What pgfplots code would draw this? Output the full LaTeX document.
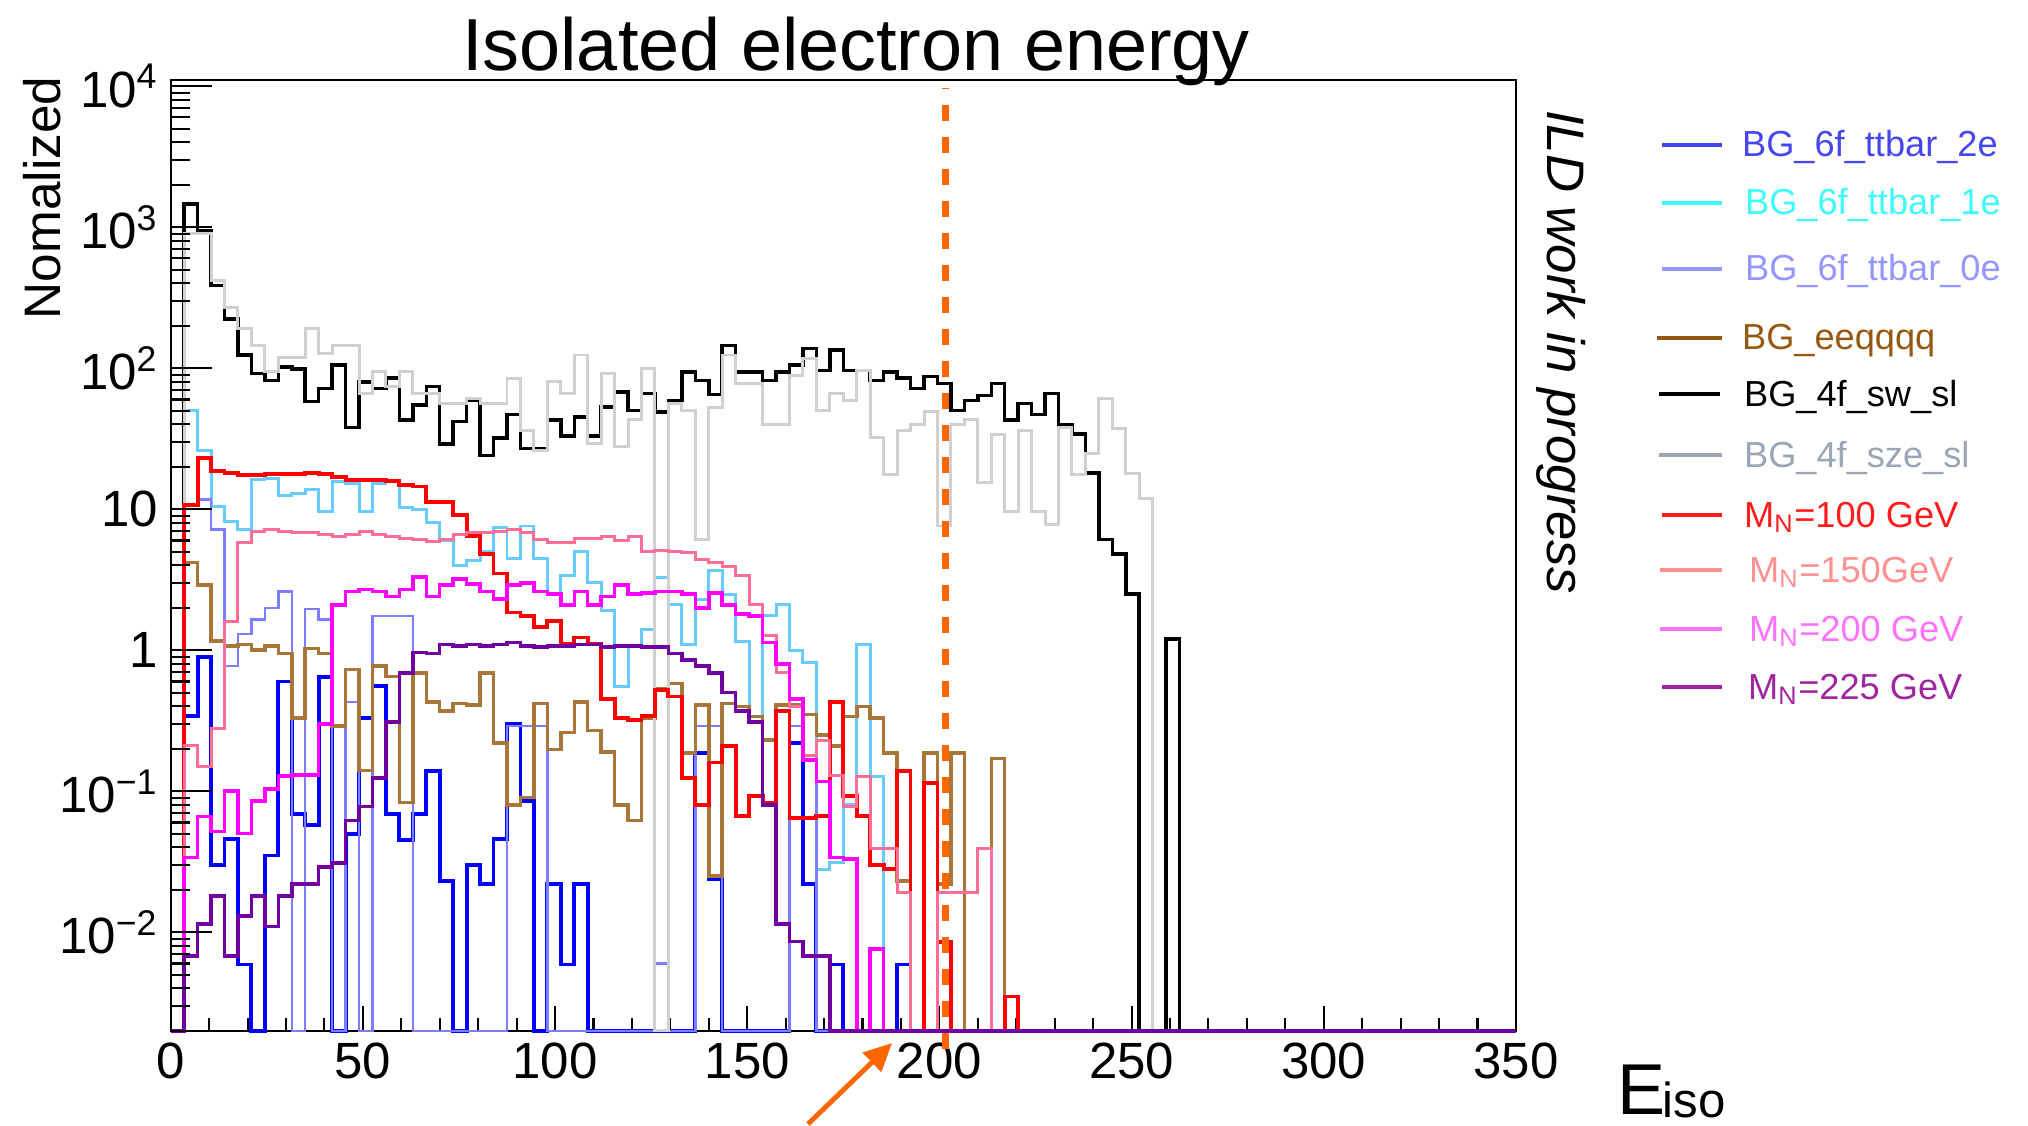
\documentclass[border=0pt]{standalone}
\usepackage{fontspec}
\setmainfont{Liberation Sans}
\usepackage{pgfplots}
\pgfplotsset{compat=1.18}
\usepackage{pgfplotstable}
\usetikzlibrary{arrows.meta}

% histogram colours
\definecolor{h2e}{RGB}{0,0,255}
\definecolor{h1e}{RGB}{102,204,255}
\definecolor{h0e}{RGB}{125,125,255}
\definecolor{heq}{RGB}{168,118,56}
\definecolor{hsz}{RGB}{208,208,208}
\definecolor{hA}{RGB}{255,0,0}
\definecolor{hB}{RGB}{255,110,150}
\definecolor{hC}{RGB}{255,0,255}
\definecolor{hD}{RGB}{112,0,160}
\definecolor{cut}{RGB}{255,102,0}
% legend colours
\definecolor{l2e}{RGB}{70,70,240}
\definecolor{l1e}{RGB}{64,250,250}
\definecolor{l0e}{RGB}{150,150,255}
\definecolor{leq}{RGB}{150,88,15}
\definecolor{lsz}{RGB}{155,166,180}
\definecolor{lA}{RGB}{255,28,28}
\definecolor{lB}{RGB}{255,145,145}
\definecolor{lC}{RGB}{255,115,255}
\definecolor{lD}{RGB}{160,38,160}

% bin left edges (width 3.5), empty bins at the axis floor 0.002
\pgfplotstableread{
x     T2     T1     T0     EQ     SW    SZ     R      P      M      U
0     0.002  0.002  0.002  0.002  0.002 0.002  0.002  0.002  0.002  0.002
3.5   0.34   50     10.6   4.2    1460  896    10.7   0.21   0.034  0.0068
7     0.9    26     11.7   2.9    945   896    23     0.15   0.066  0.0114
10.5  0.030  10.5   7.2    1.16   386   419    18.6   0.28   0.052  0.018
14    0.046  8.2    0.77   1.07   224   271    18     1.6    0.10   0.0068
17.5  0.0059 7.2    1.3    1.1    124   190    17.6   5.8    0.050  0.013
21    0.002  16.2   1.65   1.0    92    145    17.6   7      0.085  0.018
24.5  0.035  16.6   2.0    1.07   82    94     17.8   7.2    0.104  0.011
28    0.6    12.6   2.6    0.95   102   120    17.8   7      0.128  0.018
31.5  0.069  12.9   0.002  0.33   99    120    17.8   6.8    0.13   0.022
35    0.058  13.7   1.96   1.03   58    190    18     6.8    0.13   0.022
38.5  0.65   9.7    1.65   0.95   72    127    17.8   6.6    0.3    0.029
42    0.002  15.8   0.002  0.29   105   145    17     6.4    2.1    0.031
45.5  0.05   15.3   0.43   0.73   38    145    16.2   6.6    2.6    0.062
49    0.33   9.7    0.002  0.14   80    66     16.2   7      2.7    0.078
52.5  0.56   15.3   1.75   0.77   72    94     16.2   6.6    2.6    0.124
56    0.069  15.8   1.75   0.65   85    74     15.8   6.4    2.4    0.31
59.5  0.045  10.2   1.75   0.083  43    94     14.8   6.2    2.7    0.69
63    0.069  9.9    0.002  0.69   55    66     14.5   6.1    3.3    0.96
66.5  0.14   8      0.002  0.43   74    66     11.2   5.9    2.4    0.95
70    0.023  6      0.002  0.37   29    56     11.2   6.1    2.9    1.1
73.5  0.002  4      0.002  0.42   42    56     9.1    6.6    3.2    1.07
77    0.030  4.3    0.002  0.41   59    61     6.5    6.8    2.95   1.1
80.5  0.022  5      0.002  0.69   24    56     4.8    6.8    2.6    1.07
84    0.046  7.4    0.002  0.22   32    56     3.5    7      2.3    1.1
87.5  0.30   4.5    0.29   0.08   47    85     1.85   7.2    2.9    1.13
91    0.085  7.6    0.29   0.09   27    36     1.75   6.8    3.0    1.07
94.5  0.002  4.5    0.29   0.42   27    26     1.47   6.1    2.6    1.05
98    0.022  2.5    0.002  0.197  43    80     1.6    5.8    2.5    1.07
101.5 0.0059 3.4    0.002  0.26   33    66     1.1    5.8    2.1    1.07
105   0.022  5      0.002  0.43   45    124    1.23   6.2    2.6    1.1
108.5 0.002  3      0.002  0.27   33    29     1.1    6.2    2.1    1.1
112   0.002  1.9    0.002  0.19   53    92     0.45   6.4    2.4    1.05
115.5 0.002  0.55   0.002  0.08   68    28     0.33   6.0    2.9    1.07
119   0.002  1.07   0.002  0.062  50    43     0.32   6.4    2.5    1.07
122.5 0.002  1.4    0.002  0.33   66    99     0.34   5.0    2.55   1.05
126   0.002  3.3    0.006  0.53   49    0.002  0.52   5.1    2.6    1.05
129.5 0.002  2.1    0.002  0.58   59    56     0.47   5.0    2.6    0.95
133   0.002  1.1    0.002  0.186  94    50     0.124  4.9    2.5    0.85
136.5 0.186  2.3    0.29   0.41   82    6.1    0.08   4.4    2.0    0.77
140   0.024  3.7    0.29   0.025  65    53     0.16   4.2    2.55   0.69
143.5 0.002  2.5    0.002  0.42   145   124    0.21   3.9    2.1    0.50
147   0.002  1.16   0.002  0.40   94    78     0.067  3.4    1.8    0.37
150.5 0.002  0.34   0.002  0.34   94    78     0.093  2.1    1.75   0.31
154   0.002  1.75   0.002  0.23   82    40     0.083  1.27   1.13   0.08
157.5 0.002  2.1    0.002  0.41   94    40     0.37   0.69   0.8    0.0114
161   0.22   1.0    0.29   0.41   105   89     0.065  0.40   0.45   0.0086
164.5 0.022  0.82   0.18   0.35   138   117    0.065  0.18   0.166  0.0068
168   0.002  0.028  0.002  0.25   96    50     0.067  0.23   0.117  0.0068
171.5 0.0059 0.031  0.002  0.21   134   66     0.43   0.13   0.034  0.002
175   0.002  0.08   0.002  0.34   96    59     0.093  0.078  0.033  0.002
178.5 0.002  1.1    0.002  0.40   96    96     0.067  0.127  0.002  0.002
182   0.002  0.127  0.002  0.33   82    32     0.030  0.039  0.0076 0.002
185.5 0.002  0.002  0.002  0.186  94    17.5   0.028  0.039  0.002  0.002
189   0.0059 0.002  0.002  0.023  85    36     0.14   0.019  0.002  0.002
192.5 0.002  0.002  0.002  0.002  72    40     0.002  0.002  0.002  0.002
196   0.002  0.002  0.002  0.186  87    49     0.114  0.002  0.002  0.002
199.5 0.002  0.002  0.002  0.022  78    7.6    0.0085 0.019  0.002  0.002
203   0.002  0.002  0.002  0.186  50    40     0.002  0.019  0.002  0.002
206.5 0.002  0.002  0.002  0.002  59    43     0.002  0.019  0.002  0.002
210   0.002  0.002  0.002  0.002  64    15.5   0.002  0.039  0.002  0.002
213.5 0.002  0.002  0.002  0.17   78    34     0.002  0.002  0.002  0.002
217   0.002  0.002  0.002  0.002  43    9.7    0.0035 0.002  0.002  0.002
220.5 0.002  0.002  0.002  0.002  56    36     0.002  0.002  0.002  0.002
224   0.002  0.002  0.002  0.002  47    9.7    0.002  0.002  0.002  0.002
227.5 0.002  0.002  0.002  0.002  66    7.8    0.002  0.002  0.002  0.002
231   0.002  0.002  0.002  0.002  40    38     0.002  0.002  0.002  0.002
234.5 0.002  0.002  0.002  0.002  34    17.5   0.002  0.002  0.002  0.002
238   0.002  0.002  0.002  0.002  18    25     0.002  0.002  0.002  0.002
241.5 0.002  0.002  0.002  0.002  6.1   61     0.002  0.002  0.002  0.002
245   0.002  0.002  0.002  0.002  4.8   37.5   0.002  0.002  0.002  0.002
248.5 0.002  0.002  0.002  0.002  2.5   18     0.002  0.002  0.002  0.002
252   0.002  0.002  0.002  0.002  0.002 12     0.002  0.002  0.002  0.002
255.5 0.002  0.002  0.002  0.002  0.002 0.002  0.002  0.002  0.002  0.002
259   0.002  0.002  0.002  0.002  1.2   0.002  0.002  0.002  0.002  0.002
262.5 0.002  0.002  0.002  0.002  0.002 0.002  0.002  0.002  0.002  0.002
350   0.002  0.002  0.002  0.002  0.002 0.002  0.002  0.002  0.002  0.002
}\hist

\begin{document}
\begin{tikzpicture}
\path[use as bounding box] (0,0) rectangle (202.8mm,112.5mm);

\begin{axis}[
    at={(17.07mm,9.42mm)}, anchor=south west,
    scale only axis, width=134.52mm, height=95.05mm,
    xmin=0, xmax=350, ymin=0.002, ymax=11000, ymode=log,
    axis line style={line width=0.6pt},
    tick align=inside, tick style={line width=0.6pt, black},
    tick label style={font=\fontsize{14.5}{17}\selectfont},
    clip=false,
    xtick={0,50,100,150,200,250,300,350},
    xticklabels={0,50,100,150,200,250,300,350},
    minor xtick={10,20,30,40,60,70,80,90,110,120,130,140,160,170,180,190,210,220,230,240,260,270,280,290,310,320,330,340},
    xtick pos=left, ytick=\empty,
    major tick length=2.5mm, minor tick length=1.25mm,
]
\addplot[const plot, no markers, color=h2e, line width=1.1pt] table[x=x,y=T2]{\hist};
\addplot[const plot, no markers, color=h1e, line width=0.85pt] table[x=x,y=T1]{\hist};
\addplot[const plot, no markers, color=h0e, line width=0.7pt] table[x=x,y=T0]{\hist};
\addplot[const plot, no markers, color=heq, line width=1pt] table[x=x,y=EQ]{\hist};
\addplot[const plot, no markers, color=black, line width=1pt] table[x=x,y=SW]{\hist};
\addplot[const plot, no markers, color=hsz, line width=0.85pt] table[x=x,y=SZ]{\hist};
\addplot[const plot, no markers, color=hA, line width=1.1pt] table[x=x,y=R]{\hist};
\addplot[const plot, no markers, color=hB, line width=0.85pt] table[x=x,y=P]{\hist};
\addplot[const plot, no markers, color=hC, line width=1pt] table[x=x,y=M]{\hist};
\addplot[const plot, no markers, color=hD, line width=1pt] table[x=x,y=U]{\hist};
\end{axis}

% y ticks are longer than x ticks in the original
\begin{axis}[
    at={(17.07mm,9.42mm)}, anchor=south west,
    scale only axis, width=134.52mm, height=95.05mm,
    xmin=0, xmax=350, ymin=0.002, ymax=11000, ymode=log,
    axis line style={line width=0.6pt},
    tick align=inside, tick style={line width=0.6pt, black},
    tick label style={font=\fontsize{14.5}{17}\selectfont},
    hide x axis,
    ytick={0.01,0.1,1,10,100,1000,10000},
    yticklabels={10\textsuperscript{−2},10\textsuperscript{−1},1,10,10\textsuperscript{2},10\textsuperscript{3},10\textsuperscript{4}},
    minor ytick={0.002,0.003,0.004,0.005,0.006,0.007,0.008,0.009,
      0.02,0.03,0.04,0.05,0.06,0.07,0.08,0.09,
      0.2,0.3,0.4,0.5,0.6,0.7,0.8,0.9,
      2,3,4,5,6,7,8,9,20,30,40,50,60,70,80,90,
      200,300,400,500,600,700,800,900,
      2000,3000,4000,5000,6000,7000,8000,9000},
    ytick pos=left,
    major tick length=4.1mm, minor tick length=1.9mm,
]
\end{axis}

\begin{scope}[shift={(0mm,112.5mm)}, x=0.1mm, y=-0.1mm]
  \draw[cut, line width=2pt, dash pattern=on 1.6mm off 1.6mm] (945,1049) -- (945,88);
  \draw[cut, line width=1.4pt, -{Triangle[length=2.8mm,width=2.6mm]}] (808,1124) -- (892,1043);

  \node[anchor=base, inner sep=0, font=\fontsize{21}{25}\selectfont] at (856,71) {Isolated electron energy};
  \node[rotate=90, anchor=base, inner sep=0, font=\fontsize{14.6}{17}\selectfont] at (60,198) {Nomalized};
  \node[rotate=-90, anchor=base, inner sep=0, font=\fontsize{15}{18}\selectfont\itshape] at (1547,352) {ILD work in progress};
  \node[anchor=base west, inner sep=0, font=\fontsize{20.5}{24}\selectfont] at (1617,1114) {E};
  \node[anchor=base west, inner sep=0, font=\fontsize{14}{16}\selectfont] at (1662,1117) {iso};

  % legend
  \begin{scope}[line width=1.2pt, every node/.style={anchor=base west, inner sep=0, font=\fontsize{10.3}{12}\selectfont}]
    \draw[l2e] (1662,145) -- (1722,145); \node[text=l2e] at (1740,157) {BG\_6f\_ttbar\_2e};
    \draw[l1e] (1662,203) -- (1722,203); \node[text=l1e] at (1743,215) {BG\_6f\_ttbar\_1e};
    \draw[l0e] (1662,269) -- (1722,269); \node[text=l0e] at (1743,281) {BG\_6f\_ttbar\_0e};
    \draw[leq] (1657,338) -- (1722,338); \node[text=leq] at (1740,350) {BG\_eeqqqq};
    \draw[black] (1659,394) -- (1720,394); \node[text=black] at (1742,406) {BG\_4f\_sw\_sl};
    \draw[lsz] (1659,455) -- (1722,455); \node[text=lsz] at (1742,467) {BG\_4f\_sze\_sl};
    \draw[lA] (1662,515) -- (1722,515); \node[text=lA] at (1742,527) {M\textsubscript{N}=100 GeV};
    \draw[lB] (1660,570) -- (1722,570); \node[text=lB] at (1747,582) {M\textsubscript{N}=150GeV};
    \draw[lC] (1660,629) -- (1722,629); \node[text=lC] at (1747,641) {M\textsubscript{N}=200 GeV};
    \draw[lD] (1662,687) -- (1722,687); \node[text=lD] at (1746,699) {M\textsubscript{N}=225 GeV};
  \end{scope}
\end{scope}
\end{tikzpicture}
\end{document}
